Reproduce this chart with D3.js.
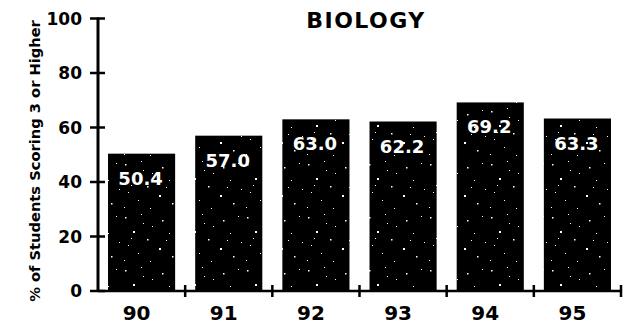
<!DOCTYPE html>
<html>
<head>
    <meta charset="utf-8">
    <title>Biology</title>
    <script src="https://cdn.jsdelivr.net/npm/d3@7"></script>
    <style>
        body { margin: 0; background: #fff; }
        text { font-family: "DejaVu Sans", sans-serif; font-weight: bold; }
    </style>
</head>
<body>
    <svg width="623" height="327" id="mainsvg"></svg>
    <script>
        // data
        const years = ['90', '91', '92', '93', '94', '95'];
        const pct = [50.4, 57.0, 63.0, 62.2, 69.2, 63.3];
        const yTicks = [0, 20, 40, 60, 80, 100];

        const svg = d3.select('#mainsvg');
        const left = 98, right = 621, bottom = 291, topY = 18.5;

        const x = d3.scaleBand().domain(years).range([left, right])
            .paddingInner(0.23).paddingOuter(0.115);
        const y = d3.scaleLinear().domain([0, 100]).range([bottom, topY]);

        // speckle texture for the bars (decoration only)
        const pat = svg.append('defs').append('pattern')
            .attr('id', 'speckle').attr('patternUnits', 'userSpaceOnUse')
            .attr('width', 61).attr('height', 53);
        pat.append('rect').attr('width', 61).attr('height', 53).attr('fill', '#000');
        const dots = [[3, 5, 1.5], [19, 2, 1], [40, 8, 1.5], [55, 4, 1], [30, 14, 1], [11, 19, 2],
            [47, 21, 1], [25, 27, 1.5], [58, 30, 1], [6, 33, 1], [37, 36, 2], [16, 41, 1],
            [50, 44, 1.5], [28, 49, 1], [2, 48, 1], [44, 28, 1], [21, 11, 1], [9, 26, 1]];
        pat.selectAll('rect.d').data(dots).join('rect').attr('class', 'd')
            .attr('x', d => d[0]).attr('y', d => d[1])
            .attr('width', d => d[2]).attr('height', d => d[2]).attr('fill', '#fff');

        svg.selectAll('rect.bar').data(pct).join('rect')
            .attr('class', 'bar')
            .attr('x', (d, i) => x(years[i]))
            .attr('y', d => y(d))
            .attr('width', x.bandwidth())
            .attr('height', d => y(0) - y(d))
            .attr('fill', 'url(#speckle)');

        svg.selectAll('text.val').data(pct).join('text')
            .attr('class', 'val')
            .attr('x', (d, i) => x(years[i]) + x.bandwidth() / 2 - 1)
            .attr('y', d => y(d) + 31)
            .attr('text-anchor', 'middle')
            .attr('fill', '#fff')
            .style('font-size', '18px')
            .text(d => d.toFixed(1));

        // axes
        svg.append('line').attr('x1', left).attr('x2', left)
            .attr('y1', y(100) - 1).attr('y2', bottom + 1)
            .attr('stroke', '#000').attr('stroke-width', 3);
        svg.append('line').attr('x1', left).attr('x2', right + 1)
            .attr('y1', bottom).attr('y2', bottom)
            .attr('stroke', '#000').attr('stroke-width', 2.5);

        svg.selectAll('line.ytick').data(yTicks).join('line')
            .attr('class', 'ytick')
            .attr('x1', left - 8).attr('x2', left + 7)
            .attr('y1', d => y(d)).attr('y2', d => y(d))
            .attr('stroke', '#000').attr('stroke-width', 2.5);

        svg.selectAll('text.ylab').data(yTicks).join('text')
            .attr('class', 'ylab')
            .attr('x', 82).attr('y', d => y(d) + 6)
            .attr('text-anchor', 'end')
            .style('font-size', '17px')
            .text(d => d);

        const step = x.step();
        const bounds = years.map((d, i) => left + step * (i + 1));
        svg.selectAll('line.xtick').data(bounds).join('line')
            .attr('class', 'xtick')
            .attr('x1', d => d).attr('x2', d => d)
            .attr('y1', bottom - 6).attr('y2', bottom + 6)
            .attr('stroke', '#000').attr('stroke-width', 2.5);

        svg.selectAll('text.xlab').data(years).join('text')
            .attr('class', 'xlab')
            .attr('x', d => x(d) + x.bandwidth() / 2 - 5)
            .attr('y', 320)
            .attr('text-anchor', 'middle')
            .style('font-size', '20px')
            .text(d => d);

        svg.append('text')
            .attr('x', 366).attr('y', 28)
            .attr('text-anchor', 'middle')
            .style('font-size', '22px')
            .style('letter-spacing', '1.5px')
            .text('BIOLOGY');

        const yTitle = svg.append('text')
            .attr('transform', 'translate(40,161) rotate(-90)')
            .attr('text-anchor', 'middle')
            .style('font-size', '16px')
            .text('% of Students Scoring 3 or Higher');
        const len = yTitle.node().getComputedTextLength();
        yTitle.style('font-size', (16 * 282 / len) + 'px');
    </script>
</body>
</html>
